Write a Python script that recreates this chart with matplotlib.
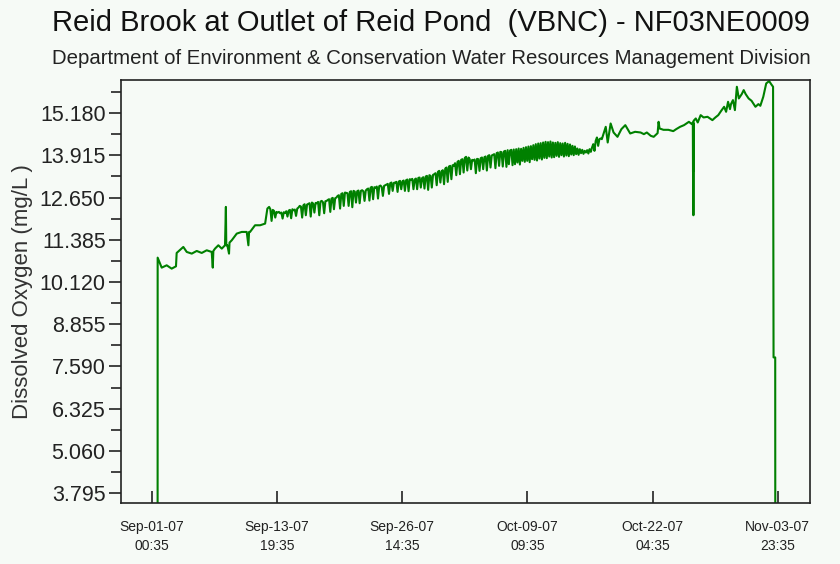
#!/usr/bin/env python3
# -*- coding: utf-8 -*-
"""
Dissolved oxygen record, Reid Brook at Outlet of Reid Pond (Sep-Nov 2007)
"""
import datetime as dt
import matplotlib
matplotlib.use('Agg')
import matplotlib.pyplot as plt
from matplotlib.ticker import FixedLocator

plt.rcParams['font.family'] = ['Liberation Sans', 'DejaVu Sans']

# days after 2007-09-01 00:00, and DO readings (mg/L)
early_days = [0.600, 0.607, 1.02, 1.53, 2.04, 2.48, 2.55, 3.23, 3.58, 4.09, 4.60,
              5.11, 5.62, 6.13, 6.24, 6.30, 6.47, 6.81, 7.16, 7.49, 7.58, 7.62,
              7.73, 7.90, 7.95, 8.18, 8.69, 9.20, 9.71, 9.88, 9.95, 10.05, 10.56,
              11.08, 11.59, 11.82]
early_do = [0.0, 10.85, 10.55, 10.62, 10.52, 10.59, 10.99, 11.17, 11.02, 10.97, 11.05,
            10.99, 11.07, 11.02, 10.55, 11.05, 11.12, 11.22, 11.12, 11.22, 12.37, 11.22,
            11.22, 10.97, 11.30, 11.37, 11.57, 11.62, 11.62, 11.22, 11.62, 11.62, 11.82,
            11.82, 11.87, 12.32]

# three-hourly readings, one row per day, starting day 12
band_start = 12.0
band_do = [
    [12.37, 12.30, 11.95, 12.28, 12.25, 12.05, 12.22, 12.20],
    [12.22, 12.18, 12.20, 12.02, 12.21, 12.19, 12.24, 12.08],
    [12.26, 12.28, 12.03, 12.30, 12.27, 12.29, 12.10, 12.32],
    [12.35, 12.40, 12.38, 12.05, 12.42, 12.45, 12.12, 12.44],
    [12.46, 12.48, 12.08, 12.50, 12.47, 12.20, 12.49, 12.48],
    [12.52, 12.12, 12.53, 12.55, 12.51, 12.18, 12.54, 12.55],
    [12.58, 12.60, 12.22, 12.62, 12.64, 12.30, 12.63, 12.65],
    [12.70, 12.72, 12.32, 12.76, 12.78, 12.40, 12.80, 12.79],
    [12.78, 12.40, 12.82, 12.84, 12.36, 12.85, 12.83, 12.50],
    [12.84, 12.86, 12.48, 12.85, 12.87, 12.84, 12.55, 12.86],
    [12.90, 12.92, 12.56, 12.95, 12.97, 12.60, 12.96, 12.94],
    [12.98, 12.62, 12.99, 13.01, 12.97, 12.70, 13.00, 13.02],
    [13.04, 13.06, 12.76, 13.08, 13.10, 12.85, 13.09, 13.10],
    [13.12, 12.82, 13.13, 13.15, 12.90, 13.14, 13.16, 12.85],
    [13.17, 13.19, 12.84, 13.20, 13.18, 13.21, 12.90, 13.19],
    [13.22, 12.90, 13.24, 13.25, 12.95, 13.23, 13.26, 12.92],
    [13.28, 13.30, 12.88, 13.32, 13.30, 12.95, 13.33, 13.35],
    [13.38, 13.02, 13.42, 13.45, 13.10, 13.44, 13.47, 13.05],
    [13.52, 13.55, 13.12, 13.58, 13.60, 13.20, 13.62, 13.60],
    [13.68, 13.32, 13.72, 13.75, 13.35, 13.78, 13.80, 13.40],
    [13.84, 13.87, 13.46, 13.85, 13.80, 13.50, 13.78, 13.76],
    [13.79, 13.38, 13.81, 13.80, 13.45, 13.83, 13.85, 13.50],
    [13.86, 13.88, 13.46, 13.90, 13.92, 13.55, 13.91, 13.93],
    [13.95, 13.53, 13.98, 14.00, 13.60, 14.02, 14.01, 13.58],
    [14.03, 14.05, 13.57, 14.07, 13.65, 14.06, 14.08, 13.62],
    [14.09, 13.65, 14.10, 13.70, 14.12, 13.64, 14.11, 13.75],
    [14.14, 13.72, 14.16, 13.75, 14.18, 13.71, 14.19, 13.80],
    [14.22, 13.78, 14.25, 13.76, 14.27, 13.82, 14.28, 13.79],
    [14.30, 13.84, 14.32, 13.83, 14.31, 13.88, 14.33, 13.85],
    [14.30, 13.86, 14.29, 13.90, 14.31, 13.87, 14.28, 13.92],
    [14.27, 13.88, 14.29, 13.91, 14.26, 13.89, 14.24, 13.94],
    [14.20, 13.92, 14.18, 13.95, 14.12, 13.93, 14.10, 13.98],
    [14.08, 13.96, 14.05, 14.00, 14.07, 13.97, 14.10, 14.02],
    [14.15, 14.25, 14.05, 14.35, 14.45, 14.20, 14.40, 14.42],
]

late_days = [46.0, 46.4, 46.6, 46.9, 47.2, 47.6, 48.0, 48.4, 48.9, 49.4, 49.96, 50.3,
             50.6, 51.0, 51.3, 51.7, 51.8, 51.9, 52.3, 52.8, 53.3, 53.6, 54.0, 54.4,
             54.9, 55.2, 55.30, 55.32, 55.34, 55.36, 55.38, 55.6, 55.8, 56.1, 56.4,
             56.8, 57.3, 57.6, 57.9, 58.2, 58.5, 58.7, 58.9, 59.1, 59.2, 59.4, 59.6,
             59.8, 60.0, 60.3, 60.5, 60.7, 61.0, 61.3, 61.7, 62.0, 62.2, 62.5, 62.8,
             63.1, 63.3, 63.5, 63.55, 63.72, 63.73]
late_do = [14.40, 14.77, 14.30, 14.87, 14.60, 14.47, 14.70, 14.82, 14.57, 14.62, 14.60, 14.55,
           14.60, 14.50, 14.47, 14.58, 14.92, 14.72, 14.68, 14.68, 14.64, 14.70, 14.77, 14.82,
           14.92, 14.85, 14.90, 13.42, 14.88, 12.12, 14.95, 15.02, 14.90, 15.12, 15.05,
           15.07, 14.97, 15.05, 15.12, 15.25, 15.37, 15.22, 15.52, 15.30, 15.45, 15.57, 15.27,
           15.97, 15.62, 15.75, 15.87, 15.75, 15.62, 15.55, 15.37, 15.45, 15.40, 15.67, 16.07,
           16.14, 16.05, 15.97, 7.86, 7.86, 0.0]

y_ticks = [3.795, 5.060, 6.325, 7.590, 8.855, 10.120, 11.385, 12.650, 13.915, 15.180]
x_ticks = ['2007-09-01 00:35', '2007-09-13 19:35', '2007-09-26 14:35',
           '2007-10-09 09:35', '2007-10-22 04:35', '2007-11-03 23:35']

base = dt.datetime(2007, 9, 1)
band_days = [band_start + i + j / len(row) for i, row in enumerate(band_do) for j in range(len(row))]
band_vals = [v for row in band_do for v in row]
days = early_days + band_days + late_days
vals = early_do + band_vals + late_do
times = [base + dt.timedelta(days=d) for d in days]

bg = '#f6faf6'
fig = plt.figure(figsize=(8.4, 5.64), dpi=100, facecolor=bg)
ax = fig.add_axes([0.144, 0.108, 0.820, 0.750], facecolor=bg)
ax.plot(times, vals, color='#008000', lw=1.5)

ax.set_xlim(base + dt.timedelta(days=-3.143), base + dt.timedelta(days=67.25))
ax.set_ylim(3.495, 16.17)

ax.set_yticks(y_ticks)
ax.set_yticklabels(['%.3f' % v for v in y_ticks])
minor = [v + 0.6325 for v in y_ticks]
ax.yaxis.set_minor_locator(FixedLocator(minor))
ax.tick_params(axis='y', which='major', direction='out', length=9, width=1.2,
               labelsize=15.5, pad=2, colors='#222222')
ax.tick_params(axis='y', which='minor', direction='out', length=7, width=1.2, colors='#222222')

xt = [dt.datetime.strptime(s, '%Y-%m-%d %H:%M') for s in x_ticks]
ax.set_xticks(xt)
ax.set_xticklabels([t.strftime('%b-%d-%y') + '\n' + t.strftime('%H:%M') for t in xt],
                   fontsize=10, linespacing=1.45)
ax.tick_params(axis='x', direction='in', length=9, width=1.2, pad=12, colors='#222222')

for s in ax.spines.values():
    s.set_linewidth(1.2)
    s.set_color('#222222')

ax.set_ylabel('Dissolved Oxygen (mg/L )', fontsize=16, color='#333333', labelpad=4.5)

fig.text(0.513, 0.960, 'Reid Brook at Outlet of Reid Pond  (VBNC) - NF03NE0009',
         ha='center', va='center', fontsize=21, color='#111111')
fig.text(0.513, 0.897, 'Department of Environment & Conservation Water Resources Management Division',
         ha='center', va='center', fontsize=14.7, color='#222222')

fig.savefig('out.png', dpi=100, facecolor=bg)
